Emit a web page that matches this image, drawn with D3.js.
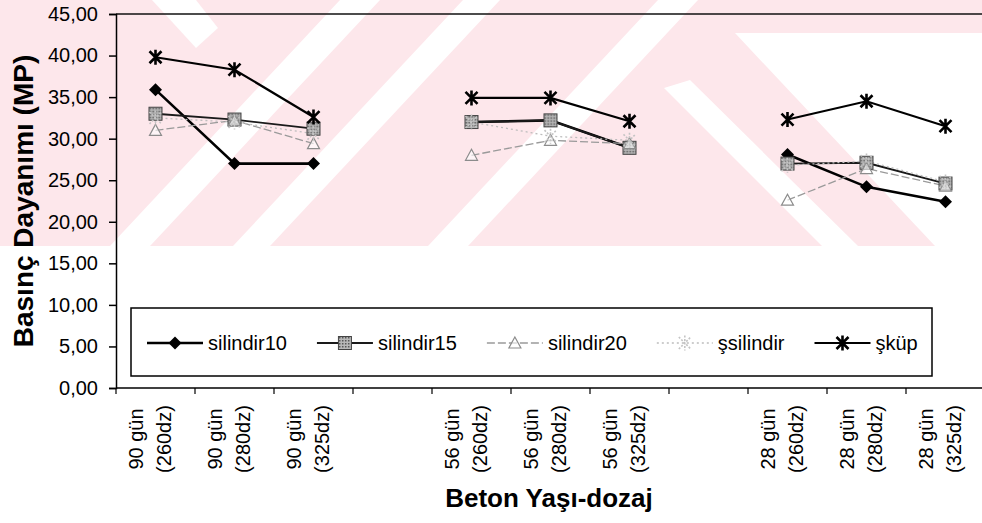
<!DOCTYPE html>
<html>
<head>
<meta charset="utf-8">
<script src="https://cdn.jsdelivr.net/npm/d3@7"></script>
<style>
  body { margin: 0; background: #fff; }
  svg { display: block; }
  text { font-family: "Liberation Sans", Arial, sans-serif; fill: #000; }
</style>
</head>
<body>
<div id="chart"></div>
<script>
// categories (null = empty slot between age groups)
const ages = ['90 gün', '90 gün', '90 gün', null, '56 gün', '56 gün', '56 gün', null, '28 gün', '28 gün', '28 gün'];
const doses = ['(260dz)', '(280dz)', '(325dz)', null, '(260dz)', '(280dz)', '(325dz)', null, '(260dz)', '(280dz)', '(325dz)'];

const silindir10 = [35.9, 27.0, 27.0, null, 32.0, 32.2, 28.9, null, 28.1, 24.2, 22.4];
const silindir15 = [33.0, 32.3, 31.2, null, 32.0, 32.2, 28.9, null, 27.0, 27.1, 24.6];
const silindir20 = [31.0, 32.2, 29.4, null, 28.0, 29.8, 29.4, null, 22.6, 26.4, 24.3];
const sSilindir = [32.5, 32.0, 30.6, null, 32.0, 30.3, 29.8, null, 26.8, 27.3, 24.8];
const sKup = [39.8, 38.3, 32.6, null, 34.9, 34.9, 32.1, null, 32.3, 34.5, 31.5];

const seriesNames = ['silindir10', 'silindir15', 'silindir20', 'şsilindir', 'şküp'];
const yTicks = [0, 5, 10, 15, 20, 25, 30, 35, 40, 45];

const width = 982, height = 523;
const margin = { top: 14, right: 0, bottom: 135, left: 116 };

const svg = d3.select('#chart').append('svg')
    .attr('width', width)
    .attr('height', height);

// hatched fill for the square markers
const defs = svg.append('defs');
const pat = defs.append('pattern')
    .attr('id', 'hatch')
    .attr('width', 3).attr('height', 3)
    .attr('patternUnits', 'userSpaceOnUse');
pat.append('rect').attr('width', 3).attr('height', 3).attr('fill', '#b8b8b8');
pat.append('rect').attr('width', 1.5).attr('height', 1.5).attr('fill', '#555');

// faint background watermark
const wm = svg.append('g').attr('id', 'watermark');
wm.append('rect').attr('x', 0).attr('y', 0).attr('width', width).attr('height', 246).attr('fill', '#fde7eb');
const whiteBands = [
    [[110, 246], [150, 246], [380, 0], [340, 0]],
    [[233, 246], [270, 246], [500, 0], [463, 0]],
    [[428, 246], [468, 246], [698, 0], [658, 0]],
    [[664, 88], [690, 80], [858, 246], [822, 246]],
    [[735, 33], [982, 33], [982, 246], [935, 246]],
    [[152, 0], [196, 0], [218, 28], [196, 48]]
];
wm.selectAll('polygon')
    .data(whiteBands)
    .enter().append('polygon')
    .attr('points', d => d.map(p => p.join(',')).join(' '))
    .attr('fill', '#fff');

const x = d3.scaleBand()
    .domain(d3.range(ages.length))
    .range([margin.left, margin.left + 79 * ages.length])
    .padding(0);

const y = d3.scaleLinear()
    .domain([0, 45])
    .range([height - margin.bottom, margin.top]);

const locale = d3.formatLocale({ decimal: ',', thousands: '.', grouping: [3], currency: ['', ''] });
const fmt = locale.format('.2f');

// top border of plot area
svg.append('line')
    .attr('x1', margin.left).attr('x2', width)
    .attr('y1', y(45)).attr('y2', y(45))
    .attr('stroke', '#111').attr('stroke-width', 1.5);

// y axis
const yAxis = svg.append('g')
    .attr('transform', 'translate(' + margin.left + ',0)')
    .call(d3.axisLeft(y).tickValues(yTicks).tickFormat(fmt).tickSize(7).tickPadding(11));
yAxis.selectAll('path, line').attr('stroke', '#000').attr('stroke-width', 1.5);
yAxis.selectAll('text').attr('font-size', 20).attr('font-family', '"Liberation Sans", Arial, sans-serif');

// x axis line + boundary ticks
const x0 = y(0);
svg.append('line')
    .attr('x1', margin.left).attr('x2', width)
    .attr('y1', x0).attr('y2', x0)
    .attr('stroke', '#000').attr('stroke-width', 1.5);
svg.append('g').selectAll('line')
    .data(d3.range(ages.length))
    .enter().append('line')
    .attr('x1', d => x(d)).attr('x2', d => x(d))
    .attr('y1', x0).attr('y2', x0 + 6)
    .attr('stroke', '#000').attr('stroke-width', 1.2);

// category labels, rotated, two lines
const labels = svg.append('g').selectAll('g')
    .data(d3.range(ages.length).filter(i => ages[i] !== null))
    .enter().append('g')
    .attr('transform', d => 'translate(' + (x(d) + x.bandwidth() / 2) + ',439) rotate(-90)');
labels.append('text')
    .attr('text-anchor', 'middle')
    .attr('y', -12.5)
    .attr('font-size', 20)
    .text(d => ages[d]);
labels.append('text')
    .attr('text-anchor', 'middle')
    .attr('y', 15)
    .attr('font-size', 20)
    .text(d => doses[d]);

// axis titles
svg.append('text')
    .attr('x', (margin.left + width) / 2).attr('y', 507)
    .attr('text-anchor', 'middle')
    .attr('font-size', 26)
    .attr('font-weight', 'bold')
    .text('Beton Yaşı-dozaj');

svg.append('text')
    .attr('transform', 'translate(33,' + (y(0) + y(45)) / 2 + ') rotate(-90)')
    .attr('text-anchor', 'middle')
    .attr('font-size', 28)
    .attr('font-weight', 'bold')
    .text('Basınç Dayanımı (MP)');

// markers
const diamondPath = 'M0,-6.5L6.5,0L0,6.5L-6.5,0Z';
const trianglePath = 'M0,-6L6,5L-6,5Z';
const starPath = 'M-6,-6L6,6M-6,6L6,-6M0,-7.5L0,7.5';

const styles = [
    { values: silindir10, stroke: '#000', width: 2.6, dash: null, marker: 'diamond' },
    { values: silindir15, stroke: '#1a1a1a', width: 1.8, dash: null, marker: 'square' },
    { values: silindir20, stroke: '#9a9a9a', width: 1.3, dash: '8,3', marker: 'triangle' },
    { values: sSilindir, stroke: '#bdbdbd', width: 1.3, dash: '2,3', marker: 'lightstar' },
    { values: sKup, stroke: '#000', width: 2.2, dash: null, marker: 'star' }
];

function drawMarker(g, type) {
    if (type === 'diamond') {
        g.append('path').attr('d', diamondPath).attr('fill', '#000');
    } else if (type === 'square') {
        g.append('rect').attr('x', -6.5).attr('y', -6.5).attr('width', 13).attr('height', 13)
            .attr('fill', 'url(#hatch)').attr('stroke', '#444').attr('stroke-width', 1);
    } else if (type === 'triangle') {
        g.append('path').attr('d', trianglePath).attr('fill', '#fff').attr('fill-opacity', 0.6)
            .attr('stroke', '#8c8c8c').attr('stroke-width', 1.2);
    } else if (type === 'lightstar') {
        g.append('path').attr('d', starPath).attr('fill', 'none')
            .attr('stroke', '#c4c4c4').attr('stroke-width', 1.6).attr('stroke-dasharray', '2,1.5');
    } else {
        g.append('path').attr('d', starPath).attr('fill', 'none')
            .attr('stroke', '#000').attr('stroke-width', 2.6);
    }
}

const line = d3.line()
    .defined(d => d !== null)
    .x((d, i) => x(i) + x.bandwidth() / 2)
    .y(d => y(d));

const plot = svg.append('g');
styles.forEach(s => {
    plot.append('path')
        .datum(s.values)
        .attr('fill', 'none')
        .attr('stroke', s.stroke)
        .attr('stroke-width', s.width)
        .attr('stroke-dasharray', s.dash)
        .attr('d', line);
});
styles.forEach(s => {
    plot.append('g').selectAll('g')
        .data(s.values.map((v, i) => [i, v]).filter(d => d[1] !== null))
        .enter().append('g')
        .attr('transform', d => 'translate(' + (x(d[0]) + x.bandwidth() / 2) + ',' + y(d[1]) + ')')
        .each(function () { drawMarker(d3.select(this), s.marker); });
});

// legend
const legend = svg.append('g');
legend.append('rect')
    .attr('x', 131).attr('y', 308).attr('width', 801).attr('height', 68)
    .attr('fill', '#fff').attr('stroke', '#000').attr('stroke-width', 1.5);

let lx = 147;
const ly = 343;
styles.forEach((s, i) => {
    const item = legend.append('g');
    item.append('line')
        .attr('x1', lx).attr('x2', lx + 56)
        .attr('y1', ly).attr('y2', ly)
        .attr('stroke', s.stroke).attr('stroke-width', s.width)
        .attr('stroke-dasharray', s.dash);
    drawMarker(item.append('g').attr('transform', 'translate(' + (lx + 28) + ',' + ly + ')'), s.marker);
    const t = item.append('text')
        .attr('x', lx + 61).attr('y', ly + 7)
        .attr('font-size', 20)
        .text(seriesNames[i]);
    lx = lx + 61 + t.node().getComputedTextLength() + 30;
});
</script>
</body>
</html>
